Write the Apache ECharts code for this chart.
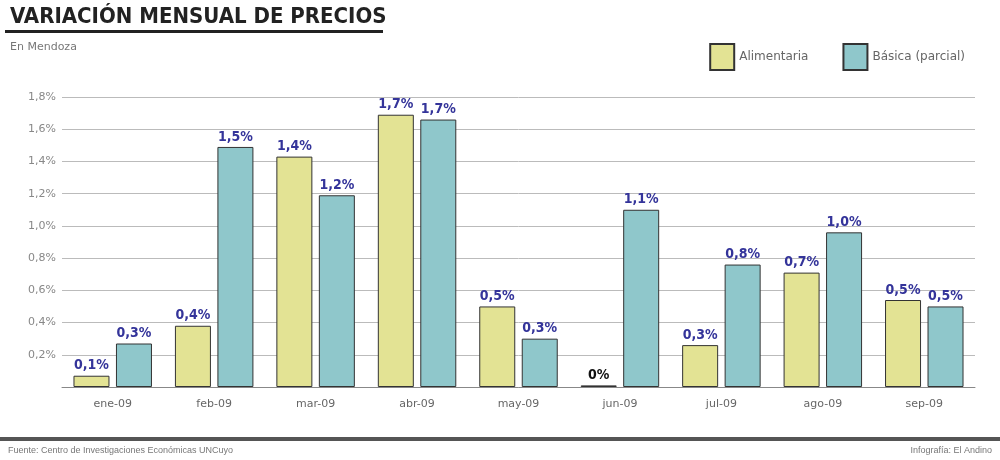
<!DOCTYPE html><html><head><meta charset="utf-8"><script src="https://cdn.jsdelivr.net/npm/echarts@6/dist/echarts.min.js"></script></head><body style="margin:0"><div id="c" style="width:1000px;height:460px"></div><script>
const categories=['ene-09','feb-09','mar-09','abr-09','may-09','jun-09','jul-09','ago-09','sep-09'];
const alimentaria=[0.07,0.38,1.43,1.69,0.5,0.01,0.26,0.71,0.54];
const basica=[0.27,1.49,1.19,1.66,0.3,1.1,0.76,0.96,0.5];
const alimLabels=['0,1%','0,4%','1,4%','1,7%','0,5%','0%','0,3%','0,7%','0,5%'];
const basLabels=['0,3%','1,5%','1,2%','1,7%','0,3%','1,1%','0,8%','1,0%','0,5%'];
const yTicks=['','0,2%','0,4%','0,6%','0,8%','1,0%','1,2%','1,4%','1,6%','1,8%'];
const ch=echarts.init(document.getElementById('c'));
const lab=arr=>({show:true,position:'top',distance:3,formatter:p=>arr[p.dataIndex],fontFamily:'DejaVu Sans Condensed',fontWeight:'bold',fontSize:14,color:'#34349a'});
ch.setOption({
 animation:false,
 title:{text:'VARIACIÓN MENSUAL DE PRECIOS',left:5,top:1,textStyle:{fontFamily:'DejaVu Sans Condensed',fontWeight:'bold',fontSize:22,color:'#222'},
  subtext:'En Mendoza',subtextStyle:{fontSize:11,color:'#777',fontFamily:'DejaVu Sans'},itemGap:14},
 legend:{right:30,top:38,icon:'rect',itemWidth:24,itemHeight:26,itemGap:34,textStyle:{fontSize:12,color:'#666',fontFamily:'DejaVu Sans'},data:['Alimentaria','Básica (parcial)']},
 grid:{left:62,right:25,top:97,bottom:73},
 xAxis:{type:'category',data:categories,axisTick:{show:false},axisLine:{lineStyle:{color:'#888'}},axisLabel:{color:'#666',fontSize:11,margin:12,fontFamily:'DejaVu Sans'}},
 yAxis:{type:'value',min:0,max:1.8,interval:0.2,axisLabel:{margin:-2,align:'right',color:'#888',fontSize:11,fontFamily:'DejaVu Sans',formatter:v=>yTicks[Math.round(v/0.2)],padding:[0,8,0,0]},axisLine:{show:false},axisTick:{show:false},splitLine:{lineStyle:{color:'#bbb'}}},
 series:[
  {name:'Alimentaria',type:'bar',data:alimentaria.map((v,i)=>i===5?{value:v,label:{color:'#111'}}:v),barWidth:36,barGap:'18%',itemStyle:{color:'#e3e394',borderColor:'#333',borderWidth:1},label:lab(alimLabels)},
  {name:'Básica (parcial)',type:'bar',data:basica,barWidth:36,itemStyle:{color:'#8fc7cb',borderColor:'#333',borderWidth:1},label:lab(basLabels)}
 ],
 graphic:[
  {type:'rect',shape:{x:5,y:30,width:378,height:3},style:{fill:'#222'}},
  {type:'rect',shape:{x:0,y:437,width:1000,height:4},style:{fill:'#555'}},
  {type:'text',left:8,top:446,style:{text:'Fuente: Centro de Investigaciones Económicas UNCuyo',fontSize:9,fill:'#777'}},
  {type:'text',right:8,top:446,style:{text:'Infografía: El Andino',fontSize:9,fill:'#777'}}
 ]
});
</script></body></html>
